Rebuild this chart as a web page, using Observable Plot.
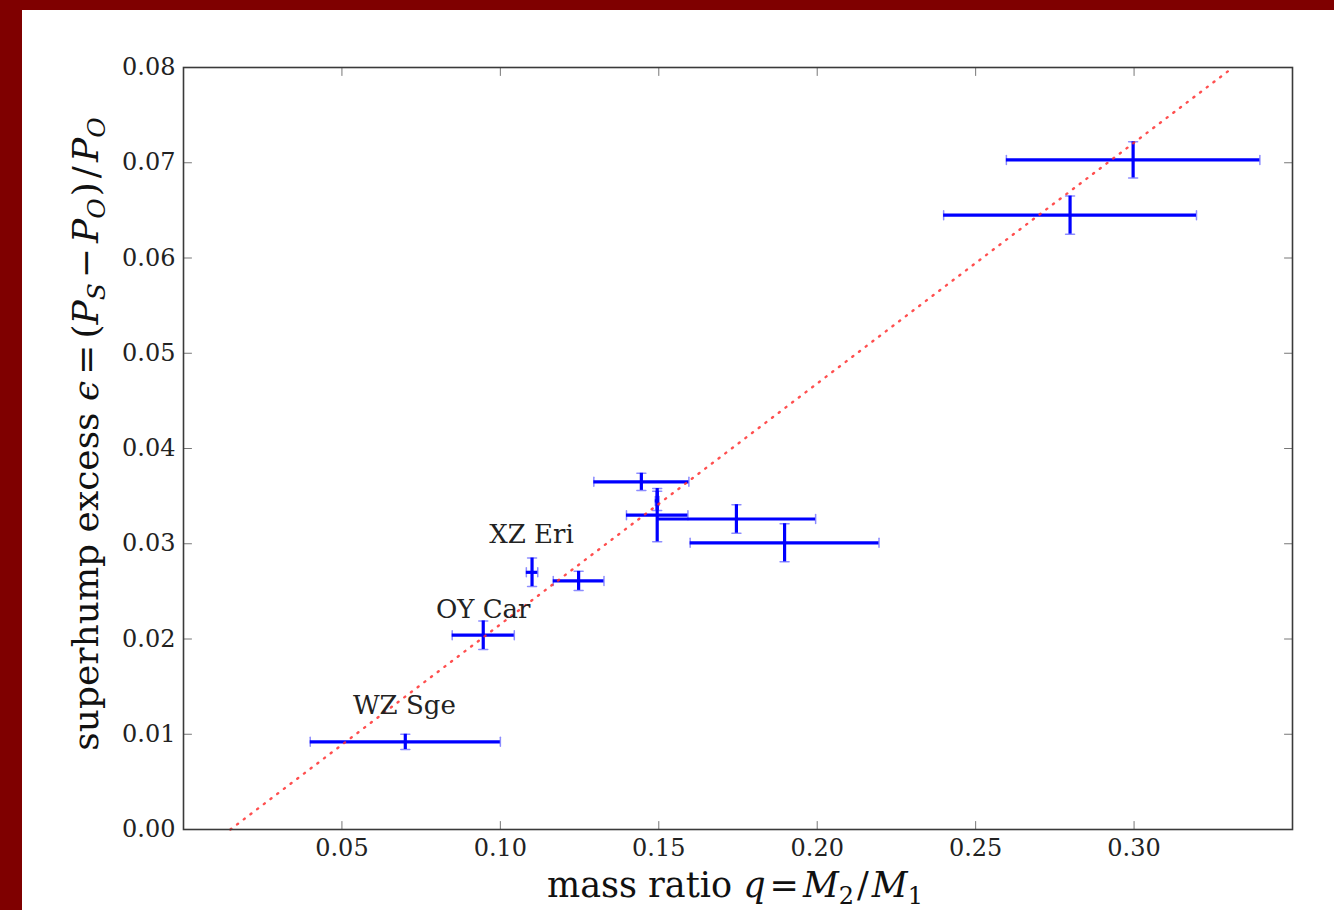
<!DOCTYPE html>
<html><head><meta charset="utf-8">
<script src="https://cdn.jsdelivr.net/npm/d3@7"></script>
<script src="https://cdn.jsdelivr.net/npm/@observablehq/plot@0.6"></script>
<style>
html,body{margin:0;padding:0;background:#7f0000;}
body{width:1334px;height:910px;overflow:hidden;position:relative;}
#panel{position:absolute;left:22px;top:10px;width:1312px;height:900px;background:#fff;}
#panel svg{display:block;}
</style></head><body><div id="panel"></div>
<script>
// mass ratio q and its error
const q      = [0.070, 0.0946, 0.110, 0.1247, 0.1445, 0.1495, 0.1495, 0.1745, 0.1897, 0.2798, 0.2997];
const qErr   = [0.030, 0.0098, 0.0018, 0.0080, 0.0150, 0.0006, 0.0097, 0.0250, 0.0298, 0.0399, 0.0400];
// superhump excess epsilon and its error
const eps    = [0.0092, 0.0204, 0.0270, 0.0261, 0.0365, 0.0345, 0.0330, 0.0326, 0.0301, 0.0645, 0.0703];
const epsErr = [0.0008, 0.0015, 0.0015, 0.0010, 0.0009, 0.0010, 0.0028, 0.0015, 0.0020, 0.0020, 0.0019];
// linear fit (dotted red line)
const fitQ = [0.0148, 0.3312];
const fitE = [0.0, 0.080];
// annotations
const labelText = ["WZ Sge", "OY Car", "XZ Eri"];
const labelQ    = [0.0697, 0.0946, 0.1098];
const labelE    = [0.0130, 0.0231, 0.0310];
// ticks
const xTicks = [0.05, 0.10, 0.15, 0.20, 0.25, 0.30];
const yTicks = [0.00, 0.01, 0.02, 0.03, 0.04, 0.05, 0.06, 0.07, 0.08];

const pts = q.map((v, i) => ({q: v, lo: v - qErr[i], hi: v + qErr[i], e: eps[i], elo: eps[i] - epsErr[i], ehi: eps[i] + epsErr[i]}));
const fit = fitQ.map((v, i) => ({q: v, e: fitE[i]}));
const labels = labelText.map((t, i) => ({t, q: labelQ[i], e: labelE[i]}));

const line = {draw(ctx, l) { ctx.moveTo(0, 0); ctx.lineTo(0, -l); }};
const tickStyle = {length: 8, anchor: "start", shape: line, stroke: "#777", strokeWidth: 1};
const capStyle = {length: 9, anchor: "middle", shape: line, stroke: "#0000ff", strokeOpacity: 0.45, strokeWidth: 1.5};
const FONT = "'DejaVu Serif', serif";

const chart = Plot.plot({
  width: 1312, height: 900,
  marginLeft: 161, marginRight: 42, marginTop: 57, marginBottom: 81,
  style: {fontFamily: FONT, fontSize: "24px", color: "#222", background: "#fff"},
  x: {domain: [0, 0.35]},
  y: {domain: [0, 0.08]},
  marks: [
    // tick labels
    Plot.axisX(xTicks, {tickSize: 0, tickPadding: 9, tickFormat: d3.format(".2f"), fontSize: 24, fill: "#222", label: null}),
    Plot.axisY(yTicks, {tickSize: 0, tickPadding: 8, tickFormat: d3.format(".2f"), fontSize: 24, fill: "#222", label: null}),
    // inward ticks on all four sides
    Plot.vector(xTicks, {x: d => d, frameAnchor: "bottom", rotate: 0, ...tickStyle}),
    Plot.vector(xTicks, {x: d => d, frameAnchor: "top", rotate: 180, ...tickStyle}),
    Plot.vector(yTicks, {y: d => d, frameAnchor: "left", rotate: 90, ...tickStyle}),
    Plot.vector(yTicks, {y: d => d, frameAnchor: "right", rotate: -90, ...tickStyle}),
    // error bars
    Plot.ruleY(pts, {y: "e", x1: "lo", x2: "hi", stroke: "#0000ff", strokeWidth: 3.2}),
    Plot.ruleX(pts, {x: "q", y1: "elo", y2: "ehi", stroke: "#0000ff", strokeWidth: 3.2}),
    Plot.vector(pts, {x: "lo", y: "e", rotate: 0, ...capStyle}),
    Plot.vector(pts, {x: "hi", y: "e", rotate: 0, ...capStyle}),
    Plot.vector(pts, {x: "q", y: "elo", rotate: 90, ...capStyle}),
    Plot.vector(pts, {x: "q", y: "ehi", rotate: 90, ...capStyle}),
    // fit line
    Plot.line(fit, {x: "q", y: "e", stroke: "#ff3030", strokeWidth: 2.4, strokeDasharray: "1.2,7.2", strokeLinecap: "round", strokeOpacity: 0.85}),
    // annotations
    Plot.text(labels, {x: "q", y: "e", text: "t", fontSize: 26, fill: "#222", fontFamily: FONT, lineAnchor: "middle"}),
    Plot.frame({stroke: "#3a3a3a", strokeWidth: 1.6})
  ]
});
document.getElementById("panel").appendChild(chart);

// axis labels with math-style parts
const svg = d3.select(chart);
function addPart(t, txt, opts = {}) {
  const s = t.append("tspan").text(txt);
  if (opts.italic) s.attr("font-style", "italic");
  if (opts.size) s.attr("font-size", opts.size);
  if (opts.dy) s.attr("dy", opts.dy);
  if (opts.dx) s.attr("dx", opts.dx);
  return s;
}
const xl = svg.append("text")
  .attr("x", 713).attr("y", 887).attr("text-anchor", "middle")
  .attr("font-family", FONT).attr("font-size", 35).attr("fill", "#111");
addPart(xl, "mass ratio ");
addPart(xl, "q", {italic: true});
addPart(xl, "=", {dx: 4});
addPart(xl, "M", {italic: true, dx: 4});
addPart(xl, "2", {size: 24, dy: 7});
addPart(xl, "/", {dy: -7, dx: 3});
addPart(xl, "M", {italic: true, dx: 3});
addPart(xl, "1", {size: 24, dy: 7});

const yl = svg.append("text")
  .attr("transform", "translate(76,424) rotate(-90)").attr("text-anchor", "middle")
  .attr("font-family", FONT).attr("font-size", 36).attr("fill", "#111");
addPart(yl, "superhump excess ");
addPart(yl, "ϵ", {italic: true});
addPart(yl, "=", {dx: 6});
addPart(yl, "(", {dx: 6});
addPart(yl, "P", {italic: true});
addPart(yl, "S", {italic: true, size: 25, dy: 7});
addPart(yl, "−", {dy: -7, dx: 5});
addPart(yl, "P", {italic: true, dx: 5});
addPart(yl, "O", {italic: true, size: 25, dy: 7});
addPart(yl, ")", {dy: -7, dx: 2});
addPart(yl, "/", {dx: 4});
addPart(yl, "P", {italic: true, dx: 4});
addPart(yl, "O", {italic: true, size: 25, dy: 7});
</script>
</body></html>
